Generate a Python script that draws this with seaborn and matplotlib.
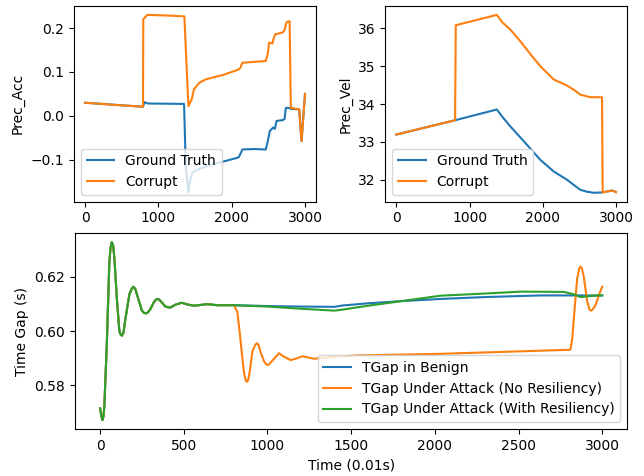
import matplotlib
matplotlib.use("Agg")
import matplotlib.pyplot as plt
import seaborn as sns

# ---------------- Top-left: Prec_Acc ----------------
acc_gt_t = [0, 400, 791, 810, 855, 1100, 1351, 1374, 1410, 1430, 1464, 1520, 1600, 1737, 1900,
            2078, 2100, 2146, 2300, 2465, 2490, 2520, 2565, 2590, 2611, 2693, 2720, 2739, 2784,
            2800, 2921, 2953, 3000]
acc_gt_v = [0.0297, 0.025, 0.0206, 0.031, 0.028, 0.0275, 0.027, -0.117, -0.176, -0.150, -0.130, -0.124,
            -0.119, -0.111, -0.104, -0.096, -0.094, -0.077, -0.076, -0.077, -0.060, -0.035, -0.027,
            -0.030, -0.012, -0.010, -0.008, 0.018, 0.018, 0.016, 0.0145, -0.058, 0.050]

acc_cor_t = [0, 400, 791, 795, 850, 1100, 1355, 1410, 1455, 1486, 1555, 1646, 1900, 2101, 2120,
             2146, 2300, 2465, 2490, 2511, 2556, 2575, 2593, 2693, 2720, 2748, 2790, 2807, 2921,
             2953, 3000]
acc_cor_v = [0.0297, 0.025, 0.0206, 0.2204, 0.2303, 0.229, 0.227, 0.022, 0.0373, 0.060, 0.075, 0.083,
             0.094, 0.106, 0.110, 0.121, 0.123, 0.125, 0.140, 0.167, 0.165, 0.178, 0.186, 0.190,
             0.195, 0.214, 0.216, 0.018, 0.0145, -0.058, 0.050]

# ---------------- Top-right: Prec_Vel ----------------
vel_gt_t = [0, 803, 1373, 1450, 1555, 1783, 1966, 2148, 2330, 2512, 2600, 2695, 2809, 2946, 3000]
vel_gt_v = [33.196, 33.574, 33.857, 33.66, 33.415, 32.93, 32.53, 32.225, 32.005, 31.74, 31.69,
            31.66, 31.67, 31.72, 31.68]

vel_cor_t = [0, 803, 812, 1373, 1450, 1555, 1692, 1830, 1966, 2148, 2330, 2430, 2512, 2649, 2809,
             2818, 2946, 3000]
vel_cor_v = [33.196, 33.574, 36.08, 36.352, 36.15, 35.97, 35.66, 35.32, 35.0, 34.65, 34.49, 34.37,
             34.25, 34.18, 34.18, 31.67, 31.72, 31.68]

# ---------------- Bottom: Time gap ----------------
common_t = [0, 8, 14, 20, 25, 40, 55, 62, 70, 78, 85, 100, 115, 122, 130, 140, 150, 175, 190, 199,
            210, 225, 250, 262, 273, 285, 300, 320, 332, 342, 352, 365, 390, 418, 450, 488, 520, 561,
            600, 641, 700, 800]
common_v = [0.5715, 0.5685, 0.5672, 0.5685, 0.572, 0.595, 0.625, 0.6305, 0.6327, 0.6315, 0.627, 0.612,
            0.600, 0.5988, 0.5983, 0.5995, 0.604, 0.6135, 0.6157, 0.6163, 0.6155, 0.6125, 0.6075,
            0.6067, 0.6065, 0.6068, 0.608, 0.6105, 0.6115, 0.6118, 0.6116, 0.6108, 0.609, 0.6086,
            0.6097, 0.6104, 0.6098, 0.6093, 0.6096, 0.6099, 0.6095, 0.6095]

benign_t = common_t + [1000, 1200, 1400, 1450, 1600, 1800, 2034, 2300, 2631, 3000]
benign_v = common_v + [0.6092, 0.609, 0.6089, 0.6094, 0.6102, 0.611, 0.6118, 0.6125, 0.6131, 0.6131]

noresil_t = common_t + [820, 835, 850, 862, 870, 876, 884, 895, 910, 928, 937, 946, 960, 980, 992,
                        1001, 1010, 1035, 1069, 1100, 1138, 1170, 1208, 1240, 1278, 1367, 1527,
                        2034, 2810, 2820, 2835, 2850, 2862, 2870, 2878, 2890, 2910, 2925, 2933,
                        2941, 2960, 2985, 3000]
noresil_v = common_v + [0.607, 0.599, 0.590, 0.5838, 0.5818, 0.5813, 0.5818, 0.5855, 0.5925, 0.5950,
                        0.5955, 0.5950, 0.592, 0.5888, 0.5878, 0.5875, 0.5878, 0.5895, 0.5918,
                        0.5905, 0.5893, 0.5898, 0.5907, 0.5903, 0.5898, 0.5903, 0.5910, 0.5916,
                        0.5931, 0.5965, 0.608, 0.619, 0.6228, 0.6237, 0.6232, 0.620, 0.611, 0.6078,
                        0.6075, 0.6078, 0.6095, 0.614, 0.6163]

resil_t = common_t + [1000, 1200, 1400, 1450, 1600, 1800, 2034, 2300, 2512, 2771, 2831, 2871, 2900,
                      2950, 3000]
resil_v = common_v + [0.609, 0.6082, 0.6075, 0.6079, 0.6093, 0.611, 0.613, 0.6138, 0.6145, 0.6144,
                      0.6135, 0.6125, 0.6127, 0.613, 0.6131]

fig = plt.figure(figsize=(6.44, 4.76), dpi=100)
W, H = 644, 476

def box(l, r, t, b):
    return [l / W, (H - b) / H, (r - l) / W, (b - t) / H]

ax1 = fig.add_axes(box(74, 316, 6, 201.7))
ax2 = fig.add_axes(box(385.3, 627, 6, 201.7))
ax3 = fig.add_axes(box(75, 627.3, 233.3, 429))

sns.lineplot(x=acc_gt_t, y=acc_gt_v, ax=ax1, color="C0", label="Ground Truth", sort=False, estimator=None)
sns.lineplot(x=acc_cor_t, y=acc_cor_v, ax=ax1, color="C1", label="Corrupt", sort=False, estimator=None)
ax1.set_ylabel("Prec_Acc")
ax1.legend(loc="lower left")

sns.lineplot(x=vel_gt_t, y=vel_gt_v, ax=ax2, color="C0", label="Ground Truth", sort=False, estimator=None)
sns.lineplot(x=vel_cor_t, y=vel_cor_v, ax=ax2, color="C1", label="Corrupt", sort=False, estimator=None)
ax2.set_ylabel("Prec_Vel")
ax2.legend(loc="lower left")

sns.lineplot(x=benign_t, y=benign_v, ax=ax3, color="C0", label="TGap in Benign", sort=False, estimator=None)
sns.lineplot(x=noresil_t, y=noresil_v, ax=ax3, color="C1", label="TGap Under Attack (No Resiliency)", sort=False, estimator=None)
sns.lineplot(x=resil_t, y=resil_v, ax=ax3, color="C2", label="TGap Under Attack (With Resiliency)", sort=False, estimator=None)
ax3.set_xlabel("Time (0.01s)")
ax3.set_ylabel("Time Gap (s)")
ax3.set_yticks([0.58, 0.60, 0.62])
ax3.legend(loc="lower right")

for ax in (ax1, ax2):
    ax.set_xticks([0, 1000, 2000, 3000])

fig.savefig("out.png", dpi=100)
